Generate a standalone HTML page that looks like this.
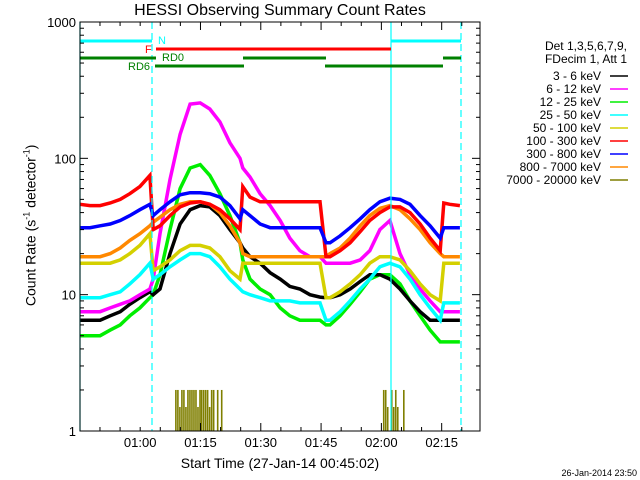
<!DOCTYPE html>
<html><head><meta charset="utf-8"><style>
html,body{margin:0;padding:0;background:#fff}
svg{display:block;font-family:"Liberation Sans",sans-serif}
</style></head><body>
<svg id="c" width="640" height="480" viewBox="0 0 640 480"></svg>
<script>
const times=[0,2.5,5,7.5,10,12.4,14.9,17.4,18.2,19.9,22.4,24.9,27.4,29.9,32.3,34.8,37.3,39.8,40.5,42.3,44.8,47.3,49.8,52.2,54.7,57.2,59.7,61.2,62.2,64.7,67.2,69.7,72.1,74.6,77.1,79.6,82.1,84.6,87.1,89.6,90.5,92.0,94.5];
const s3_6=[6.5,6.5,6.5,7,7.5,8.5,9.5,10.5,10,11,20,33,42,45,44,38,30,24,22,19,17,14.5,13,11.5,11,10,9.6,9.5,9.5,10,11,12.5,14,14,13,11,9,7.5,6.5,6.5,6.5,6.5,6.5];
const s6_12=[7.5,7.5,7.5,8,8.5,9,10,11,13,28,70,150,250,255,230,185,130,100,85,73,55,45,35,26,21,19,19,17,17,17,17,18,21,30,35,20,14,11,9,7.5,7.5,7.5,7.5];
const s12_25=[5,5,5,5.5,6,7,8,9.5,10,14,30,60,85,90,75,55,38,24,18,13,11,10,8,7,6.5,6.5,6.5,6,6,7,8.5,10.5,13,14,14,12,9,7,5.5,4.5,4.5,4.5,4.5];
const s25_50=[9.5,9.5,9.5,10,10.5,12,14,17,13,14,16,18,20,20,19,16,13,11,10.5,10,9.5,9,9,9,8.7,8.7,8.7,6.5,6.5,7.5,9,11,13,16,17,16,13,10,8,6.5,8.7,8.7,8.7];
const s50_100=[17,17,17,17,18,20,23,28,15,16,18,21,23,23,22,19,15,13,17,17,17,17,17,17,17,17,17,9.5,9.5,10.5,12,14,17,19,19,18,15,12,10,9,17,17,17];
const s100_300=[46,45,45,47,50,55,62,75,30,32,38,44,47,48,46,42,36,30,62,52,48,48,48,48,48,48,48,19,19,21,24,29,35,40,44,44,40,33,26,21,47,46,45];
const s300_800=[31,31,32,33,35,38,42,46,38,42,48,54,56,56,55,52,45,36,42,38,33,31,31,31,31,31,31,24,24,27,31,36,42,48,51,50,46,38,32,26,31,31,31];
const s800_7000=[19,19,19,20,22,25,28,32,34,37,42,46,48,48,46,40,32,24,20,19,19,19,19,19,19,19,19,19,20,22,26,32,38,43,45,42,36,30,24,20,19,19,19];
const olvTimes=[23.9,24.4,24.9,25.4,25.9,26.4,26.9,27.4,27.9,28.4,28.9,29.4,29.9,30.3,30.8,31.3,31.8,32.3,32.8,33.3,34.3,35.3,75.6,76.1,76.6,77.6,78.1,78.6,79.1,80.6];
const olvVals=[2,2,1.5,2,2,1.5,2,2,2,2,2,1.5,2,2,2,2,2,1.5,2,2,2,2,2,2,1.5,2,1.5,2,1.5,2];
const legendLabels=["3 - 6 keV","6 - 12 keV","12 - 25 keV","25 - 50 keV","50 - 100 keV","100 - 300 keV","300 - 800 keV","800 - 7000 keV","7000 - 20000 keV"];
const colors=["#000","#ff00ff","#00ee00","#00ffff","#d4d000","#ff0000","#0000ff","#ff8800","#7f7f00"];
const series=[s3_6,s6_12,s12_25,s25_50,s50_100,s100_300,s300_800,s800_7000];
const yTicks=[1,10,100,1000];
const xTickLabels=["01:00","01:15","01:30","01:45","02:00","02:15"];
const xTickMins=[14.97,29.97,44.97,59.97,74.97,89.97];

const L=80,R=480,T=22,B=431;
const X=t=>L+t*4.02;
const Y=v=>B-Math.log10(v)*(B-T)/3;
const svg=document.getElementById('c');
const NS="http://www.w3.org/2000/svg";
function mk(tag,a,parent){const e=document.createElementNS(NS,tag);for(const k in a)e.setAttribute(k,a[k]);(parent||svg).appendChild(e);return e;}

const gMarks=mk('g',{});


const drawOrder=[2,0,1,4,3,7,5,6];
const names=["series-3-6kev","series-6-12kev","series-12-25kev","series-25-50kev","series-50-100kev","series-100-300kev","series-300-800kev","series-800-7000kev"];
drawOrder.forEach(i=>{
  const d=series[i].map((v,j)=>(j?'L':'M')+X(times[j]).toFixed(1)+' '+Y(v).toFixed(1)).join(' ');
  const p=mk('path',{d:d,fill:'none',stroke:colors[i],'stroke-width':3.5},gMarks);
  
  
});
olvTimes.forEach((t,j)=>{
  const r=mk('rect',{x:X(t)-1,y:Y(olvVals[j]),width:1.6,height:B-Y(olvVals[j]),fill:colors[8]},gMarks);
  
  
});

[[80,false],[152,true],[391,false],[461,true]].forEach(([x,dash])=>{
  const l=mk('line',{x1:x,x2:x,y1:T,y2:B,stroke:'#00ffff','stroke-width':1.2,'stroke-dasharray':dash?'7,4':'none'});
  
  
});

const bars=[[80,152,41,'#00ffff'],[391,461,41,'#00ffff'],[156,391,49,'#ff0000'],[80,156,58,'#008000'],[243,326,58,'#008000'],[443,461,58,'#008000'],[155,244,66,'#008000'],[325,443,66,'#008000']];
bars.forEach(b=>{
  const l=mk('line',{x1:b[0],x2:b[1],y1:b[2],y2:b[2],stroke:b[3],'stroke-width':3});
  
  
});
[["N",158,44,'#00ffff'],["F",145,53,'#ff0000'],["RD0",162,61,'#008000'],["RD6",128,70,'#008000']].forEach(a=>{
  const t=mk('text',{x:a[1],y:a[2],fill:a[3],'font-size':11});t.textContent=a[0];
  
  
});

const box=mk('rect',{x:L,y:T,width:R-L,height:B-T,fill:'none',stroke:'#000','stroke-width':1});



for(let d=0;d<3;d++){for(let m=1;m<10;m++){const v=Math.pow(10,d)*m;const y=Y(v);const len=m===1?8:4;
  mk('line',{x1:L,x2:L+len,y1:y,y2:y,stroke:'#000'});mk('line',{x1:R,x2:R-len,y1:y,y2:y,stroke:'#000'});}}
yTicks.forEach(v=>{const t=mk('text',{x:L-4,y:Y(v)+5,'text-anchor':'end','font-size':13});t.textContent=String(v);
  
  });
for(let m=4.97;m<99.5;m+=5){const x=X(m);const maj=Math.abs(((m-14.97)%15+15)%15)<0.1;const len=maj?8:4;
  mk('line',{x1:x,x2:x,y1:B,y2:B-len,stroke:'#000'});mk('line',{x1:x,x2:x,y1:T,y2:T+len,stroke:'#000'});}
xTickLabels.forEach((s,i)=>{const t=mk('text',{x:X(xTickMins[i]),y:B+16,'text-anchor':'middle','font-size':13});t.textContent=s;
  
  });

const lg=mk('g',{});


[["Det 1,3,5,6,7,9,",50],["FDecim 1, Att 1",63]].forEach(a=>{const t=mk('text',{x:627,y:a[1],'text-anchor':'end','font-size':12},lg);t.textContent=a[0];
  
  });
legendLabels.forEach((s,i)=>{const y=76+i*13;
  const t=mk('text',{x:601,y:y+4,'text-anchor':'end','font-size':12},lg);t.textContent=s;
  
  
  mk('line',{x1:610,x2:628,y1:y,y2:y,stroke:colors[i],'stroke-width':1.5},lg);});
</script>
<div style="position:absolute;left:0;top:0;width:640px;height:480px;pointer-events:none">
<div style="position:absolute;left:80px;width:400px;top:2px;text-align:center;font:16px 'Liberation Sans',sans-serif">HESSI Observing Summary Count Rates</div>
<div style="position:absolute;left:80px;width:400px;top:455px;text-align:center;font:14px 'Liberation Sans',sans-serif">Start Time (27-Jan-14 00:45:02)</div>
<div style="position:absolute;left:-70px;top:217px;width:200px;text-align:center;transform:rotate(-90deg);font:14px 'Liberation Sans',sans-serif">Count Rate (s<sup style="font-size:9px">-1</sup> detector<sup style="font-size:9px">-1</sup>)</div>
<div style="position:absolute;right:3px;top:468px;font:9px 'Liberation Sans',sans-serif">26-Jan-2014 23:50</div>
</div>
</body></html>
